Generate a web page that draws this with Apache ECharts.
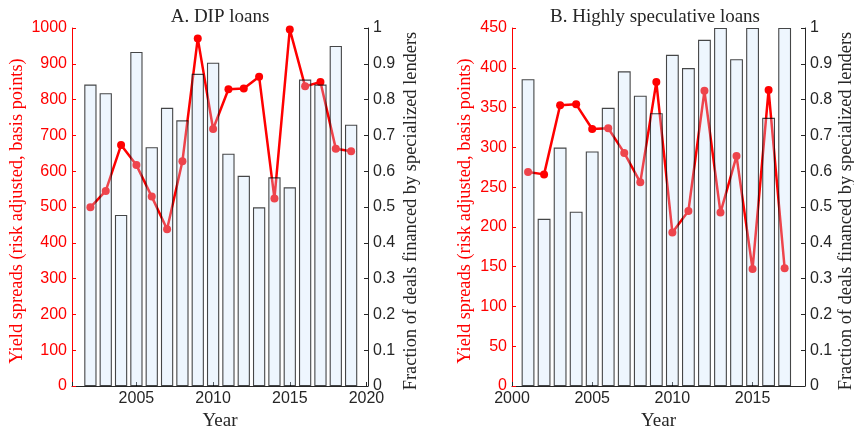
<!DOCTYPE html>
<html>
<head>
<meta charset="utf-8">
<script src="https://cdn.jsdelivr.net/npm/echarts@6/dist/echarts.min.js"></script>
<style>
  html, body { margin: 0; padding: 0; background: #fff; }
  #chart { width: 854px; height: 428px; }
</style>
</head>
<body>
<div id="chart"></div>
<script>
// Panel A: DIP loans
const yearsA = [2002, 2003, 2004, 2005, 2006, 2007, 2008, 2009, 2010, 2011, 2012, 2013, 2014, 2015, 2016, 2017, 2018, 2019];
const spreadA = [499, 545, 673, 617, 529, 438, 628, 971, 718, 829, 831, 864, 524, 996, 837, 849, 663, 656];
const shareA = [0.842, 0.818, 0.478, 0.933, 0.667, 0.777, 0.742, 0.872, 0.903, 0.649, 0.587, 0.499, 0.583, 0.555, 0.856, 0.842, 0.950, 0.730];

// Panel B: Highly speculative loans
const yearsB = [2001, 2002, 2003, 2004, 2005, 2006, 2007, 2008, 2009, 2010, 2011, 2012, 2013, 2014, 2015, 2016, 2017];
const spreadB = [269, 266, 353, 354, 323, 324, 293, 256, 382, 193, 220, 371, 218, 289, 147, 372, 148];
const shareB = [0.857, 0.467, 0.666, 0.487, 0.655, 0.777, 0.879, 0.811, 0.762, 0.925, 0.888, 0.967, 1.0, 0.913, 1.0, 0.749, 1.0];

const titles = ['A. DIP loans', 'B. Highly speculative loans'];
const leftAxisName = 'Yield spreads (risk adjusted, basis points)';
const rightAxisName = 'Fraction of deals financed by specialized lenders';
const xAxisName = 'Year';

const SERIF = '"Liberation Serif", "DejaVu Serif", serif';
const SANS = '"Liberation Sans", Arial, sans-serif';
const RED = '#ff0000';
const INK = '#262626';

const pairs = (xs, ys) => xs.map((x, i) => [x, ys[i]]);

function xAxisFor(gridIndex, min, max, opts) {
  return Object.assign({
    type: 'value', gridIndex, min, max,
    name: xAxisName, nameLocation: 'middle', nameGap: 26,
    nameTextStyle: { fontFamily: SERIF, fontSize: 19, color: INK },
    axisLine: { lineStyle: { color: INK, width: 1 } },
    axisTick: { inside: true, length: 4, lineStyle: { color: INK } },
    axisLabel: {
      fontFamily: SANS, fontSize: 16, color: INK, margin: 5,
      showMinLabel: true, showMaxLabel: true,
      formatter: v => (Math.abs(v % 5) < 1e-6 ? String(Math.round(v)) : '')
    },
    splitLine: { show: false }
  }, opts || {});
}

// rotated axis names sit slightly below the plot's vertical middle
const NAME_SHIFT = [0, 8, 0, 0];

function leftY(gridIndex, max, interval, gap) {
  return {
    type: 'value', gridIndex, position: 'left', min: 0, max, interval,
    name: leftAxisName, nameLocation: 'middle', nameRotate: 90, nameGap: gap,
    nameTextStyle: { fontFamily: SERIF, fontSize: 18.4, color: RED, padding: NAME_SHIFT },
    axisLine: { show: true, lineStyle: { color: RED, width: 1 } },
    axisTick: { show: true, inside: true, length: 4, lineStyle: { color: RED } },
    axisLabel: { fontFamily: SANS, fontSize: 16, color: RED, margin: 5,
      formatter: v => String(v) },
    splitLine: { show: false }
  };
}

function rightY(gridIndex, gap) {
  return {
    type: 'value', gridIndex, position: 'right', min: 0, max: 1, interval: 0.1,
    name: rightAxisName, nameLocation: 'middle', nameRotate: 90, nameGap: gap,
    nameTextStyle: { fontFamily: SERIF, fontSize: 18.4, color: INK, padding: NAME_SHIFT },
    axisLine: { show: true, lineStyle: { color: INK, width: 1 } },
    axisTick: { show: true, inside: true, length: 4, lineStyle: { color: INK } },
    axisLabel: { fontFamily: SANS, fontSize: 16, color: INK, margin: 5,
      formatter: v => String(Math.round(v * 10) / 10) },
    splitLine: { show: false }
  };
}

function barSeries(xAxisIndex, yAxisIndex, xs, ys) {
  return {
    type: 'bar', xAxisIndex, yAxisIndex, z: 3,
    data: pairs(xs, ys), barWidth: '80%',
    itemStyle: { color: 'rgba(198,225,252,0.3)', borderColor: 'rgba(0,0,0,0.72)', borderWidth: 1.1 },
    emphasis: { disabled: true }, silent: true
  };
}

function lineSeries(xAxisIndex, yAxisIndex, xs, ys) {
  return {
    type: 'line', xAxisIndex, yAxisIndex, z: 2,
    data: pairs(xs, ys),
    symbol: 'circle', symbolSize: 8, showAllSymbol: true,
    lineStyle: { color: RED, width: 2.5 },
    itemStyle: { color: RED },
    emphasis: { disabled: true }, silent: true, animation: false
  };
}

const chart = echarts.init(document.getElementById('chart'), null, { renderer: 'canvas' });
chart.setOption({
  animation: false,
  backgroundColor: '#ffffff',
  title: [
    { text: titles[0], left: 215, top: 3, textAlign: 'center',
      textStyle: { fontFamily: SERIF, fontSize: 19, fontWeight: 'normal', color: INK } },
    { text: titles[1], left: 650, top: 3, textAlign: 'center',
      textStyle: { fontFamily: SERIF, fontSize: 19, fontWeight: 'normal', color: INK } }
  ],
  grid: [
    { left: 72, right: 486, top: 28, bottom: 42, containLabel: false, outerBoundsMode: 'none' },
    { left: 512, right: 49, top: 28, bottom: 42, containLabel: false, outerBoundsMode: 'none' }
  ],
  xAxis: [
    xAxisFor(0, 2000.8, 2020.1, { splitNumber: 4 }),
    xAxisFor(1, 2000, 2018.27, { interval: 5 })
  ],
  yAxis: [
    leftY(0, 1000, 100, 46),
    rightY(0, 34),
    leftY(1, 450, 50, 38),
    rightY(1, 32)
  ],
  series: [
    lineSeries(0, 0, yearsA, spreadA),
    barSeries(0, 1, yearsA, shareA),
    lineSeries(1, 2, yearsB, spreadB),
    barSeries(1, 3, yearsB, shareB)
  ]
});
</script>
</body>
</html>
